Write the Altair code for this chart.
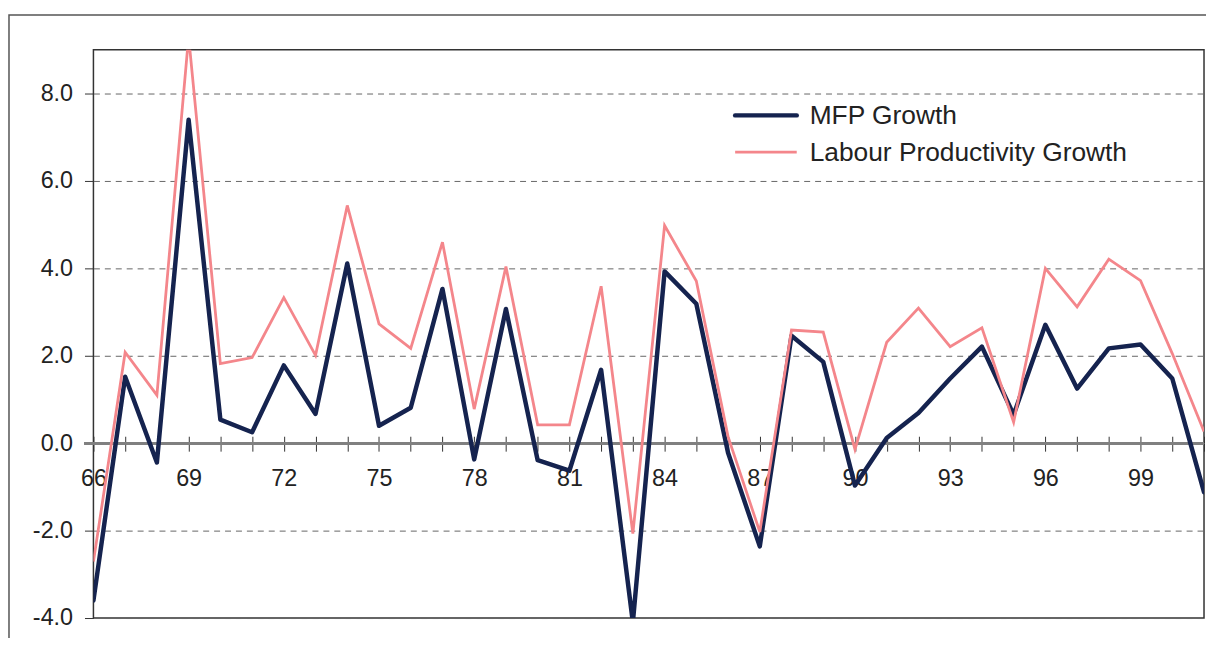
import altair as alt
import pandas as pd

years = list(range(66, 102))
mfp = [-3.6, 1.52, -0.44, 7.4, 0.54, 0.25, 1.78, 0.67, 4.11, 0.40, 0.81, 3.53,
       -0.37, 3.07, -0.39, -0.63, 1.68, -4.1, 3.93, 3.19, -0.22, -2.36, 2.46, 1.86,
       -0.97, 0.12, 0.69, 1.48, 2.21, 0.65, 2.71, 1.25, 2.17, 2.26, 1.48, -1.12]
lp = [-2.71, 2.08, 1.10, 9.3, 1.82, 1.96, 3.33, 2.01, 5.44, 2.73, 2.17, 4.60,
      0.78, 4.04, 0.42, 0.42, 3.59, -2.07, 4.98, 3.71, 0.15, -2.03, 2.59, 2.54,
      -0.14, 2.31, 3.09, 2.21, 2.64, 0.48, 4.0, 3.12, 4.21, 3.72, 2.05, 0.27]
series_names = ["MFP Growth", "Labour Productivity Growth"]
series_colors = ["#15234F", "#F4868B"]
series_widths = [4.5, 2.8]
y_ticks = [-4, -2, 0, 2, 4, 6, 8]

rows = []
for i, yr in enumerate(years):
    rows.append({"year": yr, "value": mfp[i], "series": series_names[0]})
    rows.append({"year": yr, "value": lp[i], "series": series_names[1]})
df = pd.DataFrame(rows)

W, H = 1118, 572
FONT = "Liberation Sans"
YSCALE = alt.Scale(domain=[-4, 9], nice=False, zero=False)
XSCALE = alt.Scale(domain=[66, 101], nice=False, zero=False)
ZERO_PX = 396  # pixel row of value 0 inside the plot

x_enc = alt.X(
    "year:Q", scale=XSCALE,
    axis=alt.Axis(
        values=years, title=None, grid=False, domain=False,
        tickSize=15, tickColor="#333333", tickWidth=1,
        offset=-(H - ZERO_PX + 7),
        labelExpr="(datum.value - 66) % 3 == 0 ? datum.value : ''",
        labelFlush=False, labelOverlap=False, labelBaseline="alphabetic",
        labelPadding=35, labelFont=FONT, labelFontSize=23.5, labelColor="#222222",
    ),
)
y_enc = alt.Y(
    "value:Q", scale=YSCALE,
    axis=alt.Axis(
        values=y_ticks, title=None, domain=False,
        grid=True, gridDash=[6, 5], gridColor="#666666", gridWidth=1,
        tickSize=9, tickColor="#333333", tickWidth=1,
        labelPadding=12, labelFont=FONT, labelFontSize=23.5, labelColor="#222222",
        labelExpr="datum.value < 0 ? '-' + format(abs(datum.value), '.1f') : format(datum.value, '.1f')",
    ),
)
color_enc = alt.Color("series:N", scale=alt.Scale(domain=series_names, range=series_colors), legend=None)
sw_enc = alt.StrokeWidth("series:N", scale=alt.Scale(domain=series_names, range=series_widths), legend=None)

base = alt.Chart(df)

mfp_line = base.transform_filter(alt.datum.series == series_names[0]).mark_line(
    clip=True, strokeJoin="round", strokeCap="round"
).encode(x=x_enc, y=y_enc, color=color_enc, strokeWidth=sw_enc)

lp_line = base.transform_filter(alt.datum.series == series_names[1]).mark_line(
    clip=True
).encode(x=x_enc, y=y_enc, color=color_enc, strokeWidth=sw_enc)

zero_line = base.mark_rule(color="#808080", strokeWidth=2).encode(
    y=alt.datum(0), x=alt.value(-9), x2=alt.value(W),
)

one = alt.Data(values=[{"f": 1}])
frame = alt.Chart(one).mark_rect(
    fillOpacity=0, fill="white", stroke="#555555", strokeWidth=1.5
).encode(x=alt.value(-85), y=alt.value(-35), x2=alt.value(W + 40), y2=alt.value(H + 60))

# legend (inside the plot area)
LX0, LX1, LTX = 646, 708, 721
LY = [66, 103]
leg_layers = []
for i, name in enumerate(series_names):
    leg_layers.append(
        alt.Chart(one).mark_rule(
            color=series_colors[i], strokeWidth=series_widths[i],
            strokeCap="round" if i == 0 else "butt",
        ).encode(x=alt.value(LX0), x2=alt.value(LX1), y=alt.value(LY[i]))
    )
    leg_layers.append(
        alt.Chart(one).mark_text(
            text=name, align="left", baseline="middle", font=FONT, fontSize=26.5,
            color="#222222",
        ).encode(x=alt.value(LTX), y=alt.value(LY[i] + 1))
    )

chart = alt.layer(frame, zero_line, mfp_line, lp_line, *leg_layers).properties(
    width=W, height=H, background="white",
    padding={"left": 86, "right": 2, "top": 40, "bottom": 18},
    autosize=alt.AutoSizeParams(type="none"),
).configure_view(stroke="#333333", strokeWidth=1.5)

chart.save("out.html", embed_options={"renderer": "svg", "actions": False})
